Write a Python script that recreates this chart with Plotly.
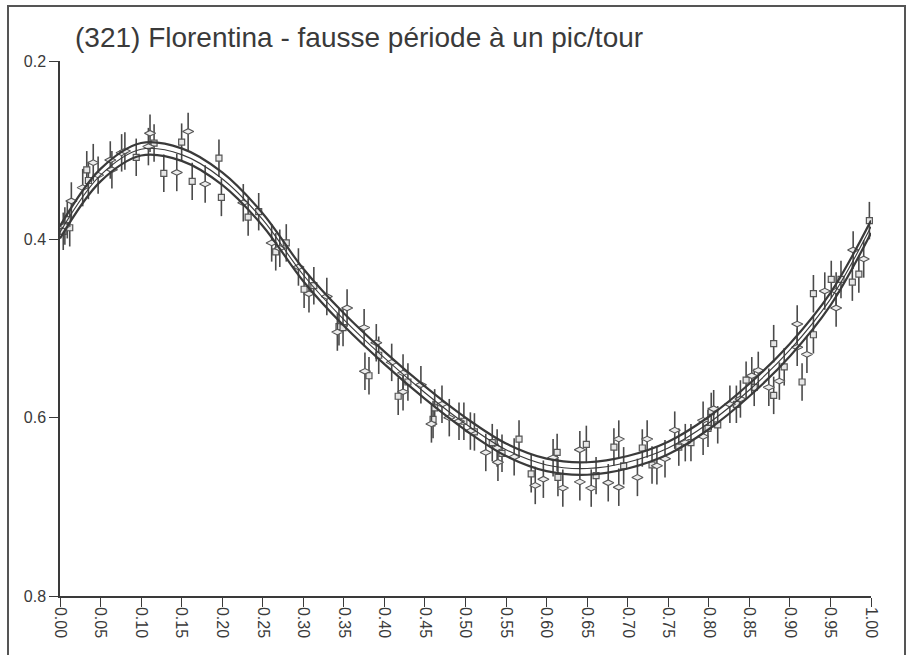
import plotly.graph_objects as go

# ---- data ----
title_text = "(321) Florentina - fausse période à un pic/tour"

x_ticks = [0.00, 0.05, 0.10, 0.15, 0.20, 0.25, 0.30, 0.35, 0.40, 0.45, 0.50,
           0.55, 0.60, 0.65, 0.70, 0.75, 0.80, 0.85, 0.90, 0.95, 1.00]
x_tick_labels = ["0.00", "0.05", "0.10", "0.15", "0.20", "0.25", "0.30", "0.35", "0.40",
                 "0.45", "0.50", "0.55", "0.60", "0.65", "0.70", "0.75", "0.80", "0.85",
                 "0.90", "0.95", "1.00"]
y_ticks = [0.2, 0.4, 0.6, 0.8]
y_tick_labels = ["0.2", "0.4", "0.6", "0.8"]

# fitted curve (middle) and its two envelope curves
fit_phase = x_ticks
fit_mid = [0.392, 0.328, 0.299, 0.305, 0.332, 0.378, 0.440, 0.490, 0.533, 0.572, 0.607,
           0.636, 0.653, 0.657, 0.650, 0.634, 0.606, 0.569, 0.524, 0.467, 0.386]
fit_upper = [0.385, 0.321, 0.292, 0.298, 0.325, 0.371, 0.433, 0.483, 0.526, 0.565, 0.600,
             0.629, 0.646, 0.650, 0.643, 0.627, 0.599, 0.562, 0.517, 0.460, 0.379]
fit_lower = [0.399, 0.335, 0.306, 0.312, 0.339, 0.385, 0.447, 0.497, 0.540, 0.579, 0.614,
             0.643, 0.660, 0.664, 0.657, 0.641, 0.613, 0.576, 0.531, 0.474, 0.393]

# observations, session 1 (squares)
sq_phase = [0.004, 0.009, 0.012, 0.033, 0.035, 0.094, 0.116, 0.128, 0.150, 0.163, 0.196,
            0.199, 0.232, 0.245, 0.266, 0.279, 0.301, 0.313, 0.344, 0.349, 0.381, 0.393,
            0.429, 0.417, 0.462, 0.460, 0.498, 0.511, 0.533, 0.545, 0.566, 0.581, 0.613,
            0.614, 0.649, 0.661, 0.683, 0.695, 0.718, 0.730, 0.763, 0.778, 0.799, 0.803,
            0.811, 0.834, 0.846, 0.856, 0.880, 0.880, 0.893, 0.915, 0.929, 0.929, 0.951,
            0.963, 0.977, 0.985, 0.998]
sq_mag = [0.391, 0.378, 0.387, 0.322, 0.334, 0.308, 0.292, 0.326, 0.291, 0.335, 0.309,
          0.353, 0.375, 0.369, 0.414, 0.404, 0.456, 0.452, 0.498, 0.499, 0.553, 0.530,
          0.560, 0.576, 0.589, 0.602, 0.604, 0.616, 0.628, 0.640, 0.624, 0.663, 0.639,
          0.667, 0.630, 0.665, 0.633, 0.654, 0.634, 0.653, 0.633, 0.628, 0.612, 0.593,
          0.608, 0.585, 0.558, 0.566, 0.575, 0.517, 0.543, 0.560, 0.507, 0.461, 0.445,
          0.445, 0.448, 0.439, 0.379]

# observations, session 2 (diamonds)
dm_phase = [0.006, 0.014, 0.028, 0.041, 0.047, 0.062, 0.064, 0.076, 0.080, 0.109, 0.111,
            0.144, 0.158, 0.179, 0.226, 0.261, 0.271, 0.294, 0.307, 0.329, 0.342, 0.354,
            0.375, 0.376, 0.390, 0.409, 0.423, 0.423, 0.445, 0.458, 0.471, 0.480, 0.492,
            0.506, 0.525, 0.539, 0.540, 0.560, 0.586, 0.596, 0.608, 0.620, 0.641, 0.641,
            0.655, 0.676, 0.689, 0.689, 0.712, 0.724, 0.736, 0.746, 0.758, 0.771, 0.793,
            0.793, 0.806, 0.826, 0.839, 0.853, 0.861, 0.874, 0.887, 0.909, 0.909, 0.921,
            0.943, 0.957, 0.957, 0.978, 0.991]
dm_mag = [0.385, 0.357, 0.342, 0.314, 0.328, 0.311, 0.322, 0.303, 0.301, 0.296, 0.281,
          0.325, 0.279, 0.338, 0.359, 0.404, 0.410, 0.431, 0.461, 0.464, 0.504, 0.477,
          0.499, 0.548, 0.516, 0.538, 0.550, 0.571, 0.563, 0.607, 0.585, 0.600, 0.604,
          0.615, 0.639, 0.634, 0.650, 0.644, 0.676, 0.669, 0.645, 0.679, 0.636, 0.672,
          0.679, 0.673, 0.624, 0.678, 0.667, 0.624, 0.654, 0.646, 0.614, 0.628, 0.603,
          0.621, 0.590, 0.585, 0.579, 0.553, 0.547, 0.566, 0.559, 0.495, 0.521, 0.529,
          0.458, 0.458, 0.477, 0.412, 0.422]

mag_error = 0.021

# ---- figure ----
ink = "#3a3a3a"
font_family = "Liberation Sans, Arial, sans-serif"

fig = go.Figure()

err = dict(type="constant", value=mag_error, color="#4a4a4a", thickness=1.6, width=0)

fig.add_trace(go.Scatter(
    x=sq_phase, y=sq_mag, mode="markers", error_y=err,
    marker=dict(symbol="square", size=6, color="#e6e6e6",
                line=dict(color="#555555", width=1.2)),
    showlegend=False, cliponaxis=False))
fig.add_trace(go.Scatter(
    x=dm_phase, y=dm_mag, mode="markers", error_y=err,
    marker=dict(symbol="diamond-wide", size=8, color="#eeeeee",
                line=dict(color="#555555", width=1.1)),
    showlegend=False, cliponaxis=False))

for ys, w in ((fit_upper, 2.2), (fit_lower, 2.2), (fit_mid, 1.1)):
    fig.add_trace(go.Scatter(
        x=fit_phase, y=ys, mode="lines",
        line=dict(color=ink, width=w, shape="spline", smoothing=1.0),
        showlegend=False, hoverinfo="skip", cliponaxis=False))

fig.update_layout(
    width=908, height=655,
    paper_bgcolor="white", plot_bgcolor="white",
    margin=dict(l=60, r=37, t=61, b=59, autoexpand=False),
    font=dict(family=font_family, color=ink, size=16),
    title=dict(text=title_text, x=75 / 908, xref="container", xanchor="left",
               y=1 - 37 / 655, yref="container", yanchor="middle",
               font=dict(family=font_family, size=28, color=ink)),
    xaxis=dict(range=[0, 1], tickmode="array", tickvals=x_ticks, ticktext=x_tick_labels,
               tickangle=90, ticks="outside", ticklen=9, tickwidth=1.3, tickcolor=ink,
               ticklabelstandoff=-3,
               showline=True, linecolor=ink, linewidth=1.5, showgrid=False,
               zeroline=False, tickfont=dict(size=16, color=ink)),
    yaxis=dict(range=[0.8, 0.2], tickmode="array", tickvals=y_ticks, ticktext=y_tick_labels,
               ticks="outside", ticklen=9, tickwidth=1.3, tickcolor=ink,
               showline=True, linecolor=ink, linewidth=1.5, showgrid=False,
               zeroline=False, tickfont=dict(size=16, color=ink)),
    shapes=[dict(type="rect", xref="paper", yref="paper",
                 x0=(8 - 60) / 811, x1=(905 - 60) / 811,
                 y0=(596 - 660) / 535, y1=(596 - 6) / 535,
                 line=dict(color="#555555", width=2), fillcolor="rgba(0,0,0,0)",
                 layer="below")],
)

fig.write_html("out.html", config={"displayModeBar": False},
               post_script="document.body.style.margin='0px';document.body.style.overflow='hidden';")
